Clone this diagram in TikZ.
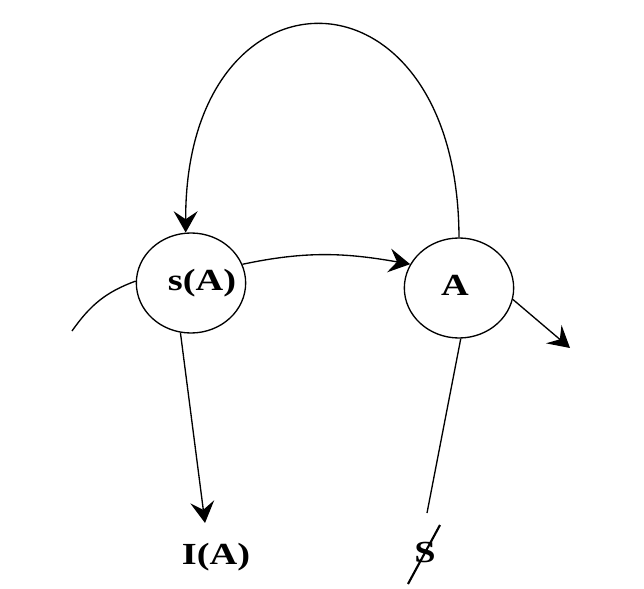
\documentclass[tikz,border=0pt]{standalone}
\usepackage{fontspec}
\usepackage{graphicx}
\setmainfont{Liberation Serif}
\usetikzlibrary{shapes.geometric,arrows.meta}
\newcommand{\widetxt}[1]{\scalebox{1.25}[1]{#1}}
\begin{document}
\begin{tikzpicture}[x=0.75pt,y=-0.75pt,
  state/.style={draw,ellipse,minimum width=82pt,minimum height=75pt,inner sep=0pt,line width=1pt},
  lbl/.style={font=\fontsize{23}{26}\selectfont\bfseries,inner sep=0pt},
  conn/.style={line width=1pt},
  tip/.style={-{Stealth[length=16pt,width=18pt,inset=6pt]}}]
\useasboundingbox (0,0) rectangle (644,589);
\node[state] (sA) at (191,283) {};
\node[state] (A) at (459,288) {};
\node[lbl] (sAt) at (202,283) {\widetxt{s(A)}};
\node[lbl] (At) at (455,285) {\widetxt{A}};
\node[lbl] (IA) at (216,557) {\widetxt{I(A)}};
\node[lbl] (S) at (425,552) {\widetxt{S}};
\coordinate (lend) at (72,331);
\coordinate (dend) at (205,523);
\coordinate (bend) at (427,513);
\coordinate (rend) at (570,348);
\coordinate (s1) at (408,584);
\coordinate (s2) at (440,525);
% top arc from A back to s(A)
\draw[conn,tip] (A.north) .. controls (458,-45) and (185,-45) .. (sA.96);
% s(A) to A
\draw[conn,tip] (sA.20) to[out=12,in=170] (A.154);
% left stub
\draw[conn] (sA.178) to[out=200,in=55] (lend);
% down arrow to I(A)
\draw[conn,tip] (sA.258) -- (dend);
% A down line
\draw[conn] (A.272) -- (bend);
% slash through S
\draw[line width=1.6pt] (s1) -- (s2);
% A right arrow
\draw[conn,tip] (A.-12) -- (rend);
\end{tikzpicture}
\end{document}
